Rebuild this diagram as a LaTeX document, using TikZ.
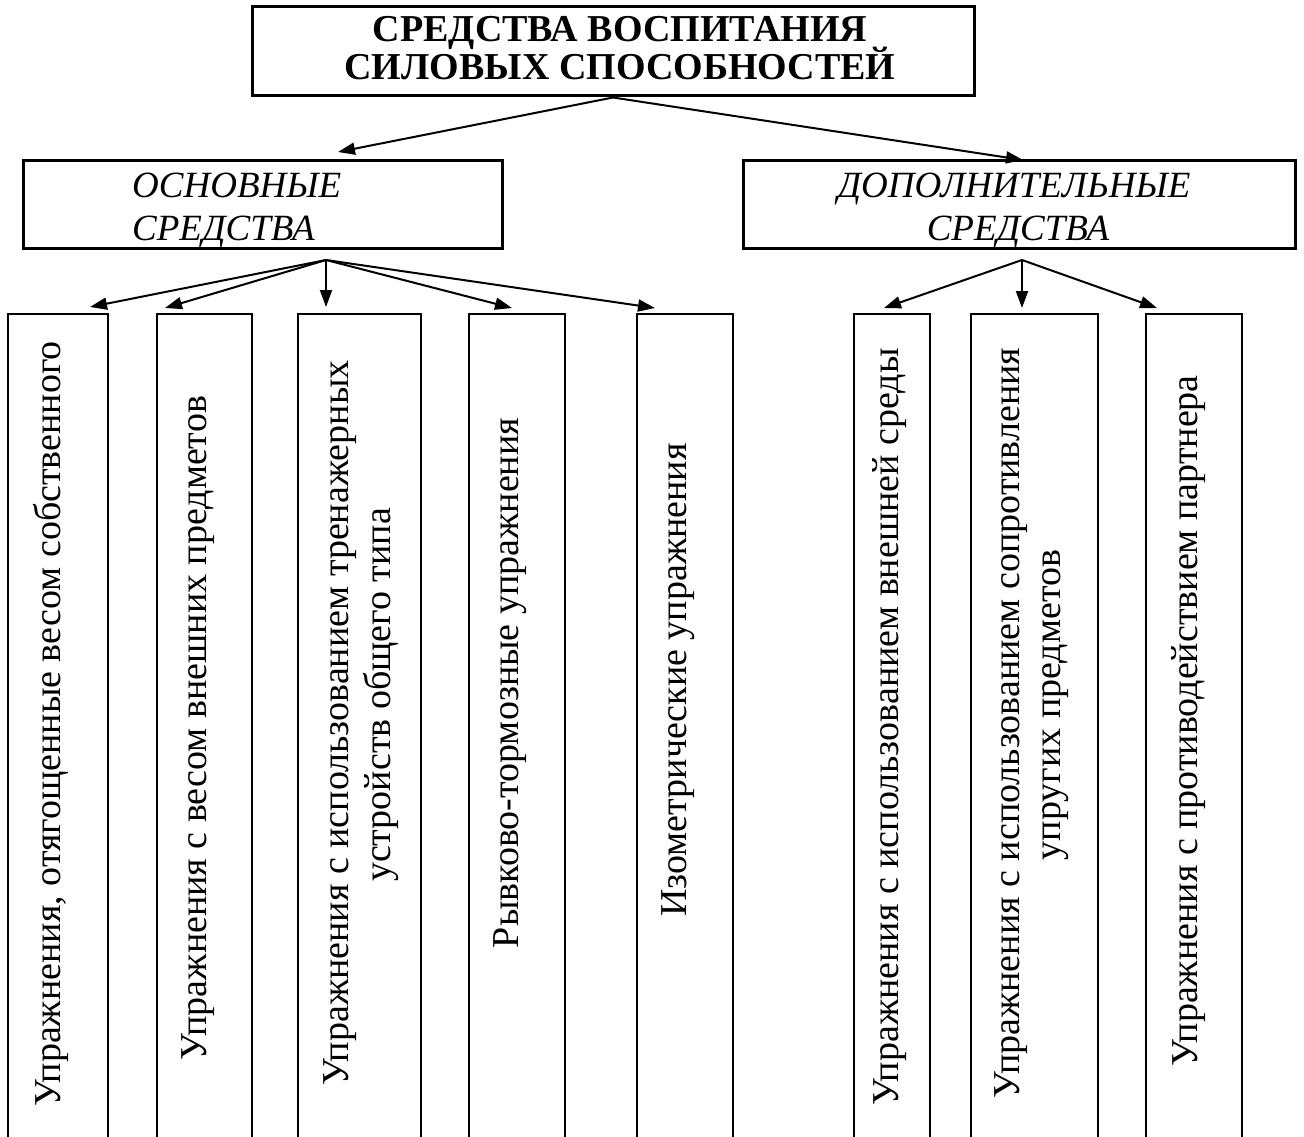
\documentclass[tikz,border=0pt]{standalone}
\usepackage{fontspec}
\setmainfont{Liberation Serif}
\usetikzlibrary{arrows.meta}
\begin{document}
\begin{tikzpicture}[x=1pt,y=-1pt,
  frame/.style={draw, line width=3pt, inner sep=0pt},
  col/.style={draw, line width=2.4pt},
  arr/.style={-{Triangle[length=17pt,width=12pt]}, line width=2pt},
  ttl/.style={anchor=base, inner sep=0pt, font=\bfseries\fontsize{38}{40}\selectfont},
  itx/.style={inner sep=0pt, font=\itshape\fontsize{37}{40}\selectfont},
  vt/.style={rotate=90, anchor=base, inner sep=0pt, font=\fontsize{38}{40}\selectfont},
  ]
\useasboundingbox (0,0) rectangle (1304,1137);
% top box
\node[frame, minimum width=722pt, minimum height=89pt] (top) at (613,51.5) {};
\node[ttl] (t1) at (620,42) {СРЕДСТВА ВОСПИТАНИЯ};
\node[ttl] (t2) at (620,80) {СИЛОВЫХ СПОСОБНОСТЕЙ};
% second level
\node[frame, minimum width=479pt, minimum height=87pt] (osn) at (262.5,204.5) {};
\node[itx, anchor=base west] (o1) at (132,197) {ОСНОВНЫЕ};
\node[itx, anchor=base west] (o2) at (132,240) {СРЕДСТВА};
\node[frame, minimum width=552pt, minimum height=87pt] (dop) at (1019,204.5) {};
\node[itx, anchor=base] (d1) at (1014,197) {ДОПОЛНИТЕЛЬНЫЕ};
\node[itx, anchor=base] (d2) at (1018,240) {СРЕДСТВА};
% arrows level 1
\coordinate (aL) at (338,152);
\coordinate (aR) at (1023,160);
\draw[arr] (top.south) -- (aL);
\draw[arr] (top.south) -- (aR);
% arrows level 2
\coordinate (sL) at (326,260);
\coordinate (sR) at (1022,260);
\coordinate (p1) at (90,307);
\coordinate (p2) at (165,308);
\coordinate (p3) at (326,307);
\coordinate (p4) at (512,308);
\coordinate (p5) at (655,308);
\coordinate (p6) at (884,308);
\coordinate (p7) at (1022,308);
\coordinate (p8) at (1157,308);
\foreach \p in {p1,p2,p3,p4,p5} \draw[arr] (sL) -- (\p);
\foreach \p in {p6,p7,p8} \draw[arr] (sR) -- (\p);
% columns (open at the bottom)
\draw[col] (8,1150) rectangle (108,314);
\draw[col] (157,1150) rectangle (252,314);
\draw[col] (298,1150) rectangle (421,314);
\draw[col] (469,1150) rectangle (565,314);
\draw[col] (637,1150) rectangle (733,314);
\draw[col] (854,1150) rectangle (930,314);
\draw[col] (971,1150) rectangle (1098,314);
\draw[col] (1146,1150) rectangle (1242,314);
% column texts
\node[vt] (c1) at (60,724) {Упражнения, отягощенные весом собственного};
\node[vt] (c2) at (206,728) {Упражнения с весом внешних предметов};
\node[vt] (c3a) at (348,723) {Упражнения с использованием тренажерных};
\node[vt] (c3b) at (390,695) {устройств общего типа};
\node[vt] (c4) at (518,683) {Рывково-тормозные упражнения};
\node[vt] (c5) at (686,680) {Изометрические упражнения};
\node[vt] (c6) at (898,727) {Упражнения с использованием внешней среды};
\node[vt] (c7a) at (1019,723) {Упражнения с использованием сопротивления};
\node[vt] (c7b) at (1060,705) {упругих предметов};
\node[vt] (c8) at (1197,721) {Упражнения с противодействием партнера};
\end{tikzpicture}
\end{document}
